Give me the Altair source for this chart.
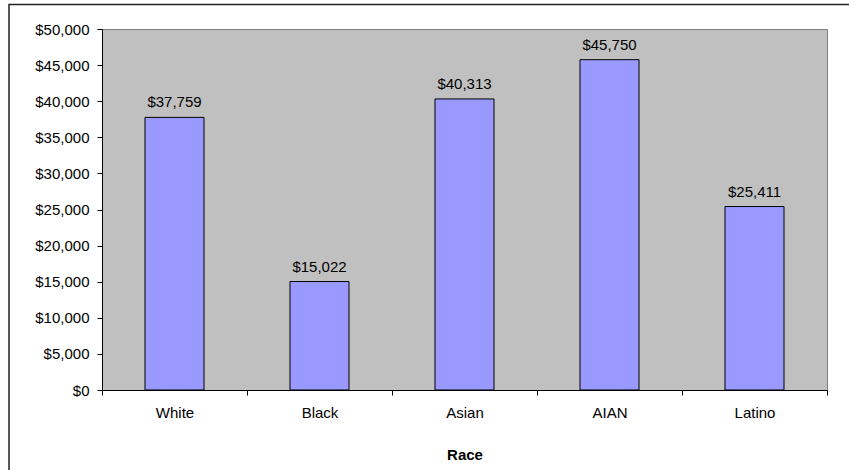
import altair as alt
import pandas as pd

races = ["White", "Black", "Asian", "AIAN", "Latino"]
incomes = [37759, 15022, 40313, 45750, 25411]
y_ticks = [0, 5000, 10000, 15000, 20000, 25000, 30000, 35000, 40000, 45000, 50000]

df = pd.DataFrame({"Race": races, "Income": incomes})
FONT = "Liberation Sans"
FS = 15

x = alt.X("Race:N", sort=races, title="Race",
          scale=alt.Scale(paddingInner=0, paddingOuter=0),
          axis=alt.Axis(labelAngle=0, labelFontSize=FS, labelColor="black",
                        labelFont=FONT, tickBand="extent", tickSize=5,
                        tickColor="black", domainColor="black", labelPadding=10,
                        titleFont=FONT, titleFontSize=FS, titleFontWeight="bold",
                        titleColor="black", titlePadding=27))
y = alt.Y("Income:Q", title=None,
          scale=alt.Scale(domain=[0, 50000], nice=False),
          axis=alt.Axis(values=y_ticks, format="$,.0f", grid=False,
                        labelFontSize=FS, labelColor="black", labelFont=FONT,
                        tickSize=5, tickColor="black", domainColor="black",
                        labelPadding=8, labelOverlap=False))

bars = alt.Chart(df).mark_bar(width=alt.RelativeBandSize(0.407), color="#9999FF",
                              stroke="black", strokeWidth=1).encode(x=x, y=y)
labels = alt.Chart(df).mark_text(baseline="alphabetic", dy=-10, fontSize=FS, font=FONT,
                                 color="black").encode(
    x=x, y=y,
    text=alt.Text("Income:Q", format="$,.0f"))

border_df = pd.DataFrame({"k": [0]})
border = alt.Chart(border_df).mark_rect(fillOpacity=0, stroke="#222222",
                                        strokeWidth=1.5, clip=False).encode(
    x=alt.value(-93), x2=alt.value(760), y=alt.value(-24.5), y2=alt.value(500))

chart = alt.layer(bars, labels, border).properties(
    width=725, height=361,
    autosize=alt.AutoSizeParams(type="none"),
    padding={"left": 102, "top": 29, "right": 22, "bottom": 80},
    background="white",
).configure_view(fill="#C0C0C0", stroke="#808080", strokeWidth=1)

chart.save("out.html", embed_options={"renderer": "svg", "actions": False})
